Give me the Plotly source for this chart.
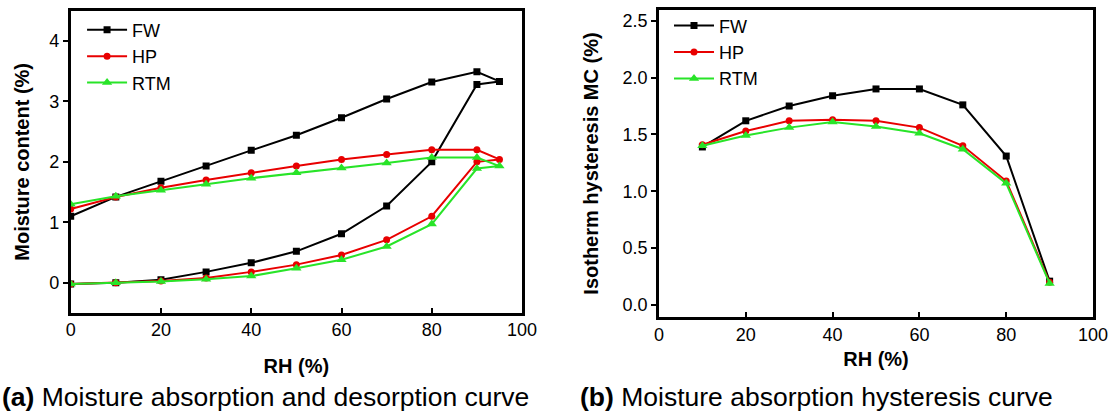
import plotly.graph_objects as go
from plotly.subplots import make_subplots

# (a) absorption (0 -> 95 %RH) followed by desorption (95 -> 0 %RH), one loop per material
rh_loop = [0, 10, 20, 30, 40, 50, 60, 70, 80, 90, 95,
           90, 80, 70, 60, 50, 40, 30, 20, 10, 0]
fw_loop = [-0.02, 0.0, 0.05, 0.18, 0.33, 0.52, 0.81, 1.27, 2.0, 3.28, 3.33,
           3.49, 3.32, 3.04, 2.73, 2.44, 2.19, 1.93, 1.68, 1.42, 1.1]
hp_loop = [-0.02, 0.0, 0.03, 0.08, 0.18, 0.30, 0.46, 0.71, 1.1, 2.0, 2.04,
           2.2, 2.2, 2.12, 2.04, 1.93, 1.82, 1.7, 1.57, 1.42, 1.22]
rtm_loop = [-0.02, 0.0, 0.02, 0.06, 0.11, 0.24, 0.38, 0.6, 0.97, 1.89, 1.93,
            2.07, 2.07, 1.98, 1.9, 1.82, 1.73, 1.63, 1.53, 1.43, 1.3]

# (b) hysteresis (desorption - absorption)
rh_hyst = [10, 20, 30, 40, 50, 60, 70, 80, 90]
fw_hyst = [1.39, 1.62, 1.75, 1.84, 1.90, 1.90, 1.76, 1.31, 0.21]
hp_hyst = [1.41, 1.53, 1.62, 1.63, 1.62, 1.56, 1.40, 1.09, 0.20]
rtm_hyst = [1.40, 1.49, 1.56, 1.61, 1.57, 1.51, 1.37, 1.07, 0.19]

names = ['FW', 'HP', 'RTM']
colors = ['black', 'rgb(232,0,0)', 'rgb(40,228,40)']
symbols = ['square', 'circle', 'triangle-up']
msizes = [7, 7, 9]

FONT = 'Arial, Liberation Sans, sans-serif'

fig = make_subplots(rows=1, cols=2)

for name, ys, c, s, ms in zip(names, [fw_loop, hp_loop, rtm_loop], colors, symbols, msizes):
    fig.add_trace(go.Scatter(x=rh_loop, y=ys, mode='lines+markers', name=name,
                             line=dict(color=c, width=2),
                             marker=dict(symbol=s, size=ms, color=c),
                             legend='legend'), row=1, col=1)

for name, ys, c, s, ms in zip(names, [fw_hyst, hp_hyst, rtm_hyst], colors, symbols, msizes):
    fig.add_trace(go.Scatter(x=rh_hyst, y=ys, mode='lines+markers', name=name,
                             line=dict(color=c, width=2),
                             marker=dict(symbol=s, size=ms, color=c),
                             legend='legend2'), row=1, col=2)

axis_common = dict(showline=True, mirror=True, linecolor='black', linewidth=2.5,
                   showgrid=False, zeroline=False, ticklen=5, tickwidth=1.5,
                   tickcolor='black', tickfont=dict(size=18, color='black', family=FONT),
                   title_font=dict(size=20, color='black', family=FONT),
                   automargin=False)

fig.update_xaxes(axis_common)
fig.update_yaxes(axis_common)

fig.update_xaxes(range=[0, 100], tickvals=[0, 20, 40, 60, 80, 100], ticks='inside',
                 ticklabelstandoff=-1,
                 title=dict(text='<b>RH (%)</b>', standoff=20),
                 domain=[0.0634, 0.4682], row=1, col=1)
fig.update_yaxes(range=[-0.5, 4.5], tickvals=[0, 1, 2, 3, 4], ticks='outside',
                 title=dict(text='<b>Moisture content (%)</b>', standoff=15),
                 domain=[0.2403, 0.974], row=1, col=1)
fig.update_xaxes(range=[0, 100], tickvals=[0, 20, 40, 60, 80, 100], ticks='inside',
                 ticklabelstandoff=0,
                 title=dict(text='<b>RH (%)</b>', standoff=8),
                 domain=[0.591, 0.9803], row=1, col=2)
fig.update_yaxes(range=[-0.105, 2.594], tickvals=[0, 0.5, 1, 1.5, 2, 2.5], ticks='outside',
                 tickformat='.1f',
                 title=dict(text='<b>Isotherm hysteresis MC (%)</b>', standoff=19),
                 domain=[0.2306, 0.9757], row=1, col=2)

legend_style = dict(xanchor='left', yanchor='top', bgcolor='rgba(0,0,0,0)',
                    font=dict(size=18, color='black', family=FONT),
                    itemwidth=40, tracegroupgap=0)

fig.update_layout(
    width=1115, height=412,
    margin=dict(l=0, r=0, t=0, b=0),
    paper_bgcolor='white', plot_bgcolor='white',
    font=dict(family=FONT, color='black'),
    legend=dict(x=0.0736, y=0.972, **legend_style),
    legend2=dict(x=0.600, y=0.982, **legend_style),
    annotations=[
        dict(text='<b>(a)</b> Moisture absorption and desorption curve', x=0, y=0.036,
             xref='paper', yref='paper', xanchor='left', yanchor='middle',
             showarrow=False, font=dict(size=26.5, color='black', family=FONT)),
        dict(text='<b>(b)</b> Moisture absorption hysteresis curve', x=0.518, y=0.036,
             xref='paper', yref='paper', xanchor='left', yanchor='middle',
             showarrow=False, font=dict(size=26.5, color='black', family=FONT)),
    ],
)

# drop the browser's default body margin so the figure sits at the page origin
fig.write_html("out.html", config={'displayModeBar': False},
               post_script="document.body.style.margin='0';")
